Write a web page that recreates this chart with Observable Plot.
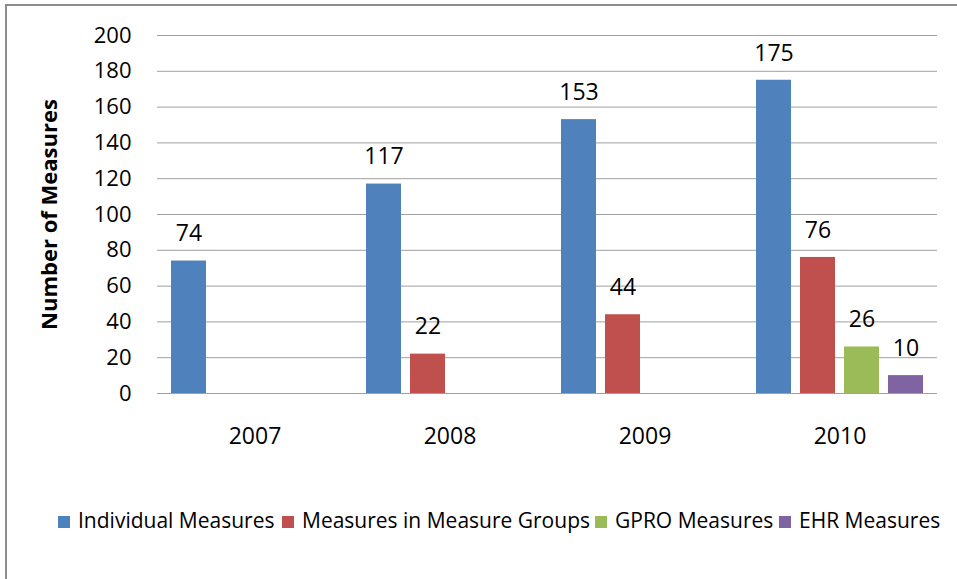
<!DOCTYPE html>
<html>
<head>
<meta charset="utf-8">
<script src="https://cdn.jsdelivr.net/npm/d3@7"></script>
<script src="https://cdn.jsdelivr.net/npm/@observablehq/plot@0.6"></script>
<style>
  html, body { margin: 0; padding: 0; background: #fff; }
  #wrap { position: relative; width: 957px; height: 579px; overflow: hidden; font-family: "Open Sans", Lato, sans-serif; }
  #border { position: absolute; left: 5px; top: 4px; right: -5px; bottom: -5px; border-left: 2px solid #8c8c8c; border-top: 2px solid #8c8c8c; }
  #chart { position: absolute; left: 0; top: 0; }
  #chart svg text { font-family: "Open Sans", Lato, sans-serif; fill: #000; }
  g[aria-label="y-axis label"] text { font-weight: bold; font-size: 22px; }
  .leg { position: absolute; top: 507px; font-size: 21px; white-space: nowrap; color: #000; line-height: 26px; }
  .leg span.sw { display: inline-block; width: 12px; height: 12px; margin-right: 8px; vertical-align: 0px; }
</style>
</head>
<body>
<div id="wrap">
  <div id="border"></div>
  <div id="chart"></div>
  <div id="legend"></div>
</div>
<script>
const years = ["2007", "2008", "2009", "2010"];
const seriesNames = ["Individual Measures", "Measures in Measure Groups", "GPRO Measures", "EHR Measures"];
const individual = [74, 117, 153, 175];
const measureGroups = [null, 22, 44, 76];
const gpro = [null, null, null, 26];
const ehr = [null, null, null, 10];
const colors = ["#4f81bd", "#c0504d", "#9bbb59", "#8064a2"];
const yTicks = [0, 20, 40, 60, 80, 100, 120, 140, 160, 180, 200];
const legendX = [58, 282, 595, 779];

const seriesValues = [individual, measureGroups, gpro, ehr];
const data = [];
years.forEach((yr, i) => {
  seriesValues.forEach((vals, s) => {
    if (vals[i] != null) data.push({year: yr, series: seriesNames[s], value: vals[i]});
  });
});

const chart = Plot.plot({
  width: 957,
  height: 460,
  marginTop: 35,
  marginBottom: 67,
  marginLeft: 157,
  marginRight: 20,
  style: {fontSize: "20px", fontFamily: "'Open Sans', Lato, sans-serif", background: "transparent"},
  fx: {domain: years, padding: 0, label: null},
  x: {domain: seriesNames, paddingInner: 0.21, paddingOuter: 0.3, axis: null},
  y: {domain: [0, 200], ticks: yTicks},
  color: {domain: seriesNames, range: colors},
  marks: [
    Plot.gridY(yTicks, {stroke: "#a0a0a0", strokeOpacity: 1, strokeWidth: 1}),
    Plot.axisY({ticks: yTicks, tickSize: 0, tickPadding: 26, label: "Number of Measures", labelAnchor: "center", labelArrow: "none", labelOffset: 116, fontSize: 22}),
    Plot.axisFx({anchor: "bottom", tickSize: 0, tickPadding: 34, label: null, fontSize: 23}),
    Plot.barY(data, {fx: "year", x: "series", y: "value", fill: "series"}),
    Plot.text(data, {fx: "year", x: "series", y: "value", text: d => String(d.value), dy: -27, fontSize: 23, fill: "#000"})
  ]
});
document.getElementById("chart").appendChild(chart);

const legend = document.getElementById("legend");
seriesNames.forEach((name, i) => {
  const item = document.createElement("div");
  item.className = "leg";
  item.style.left = legendX[i] + "px";
  const sw = document.createElement("span");
  sw.className = "sw";
  sw.style.background = colors[i];
  item.appendChild(sw);
  item.appendChild(document.createTextNode(name));
  legend.appendChild(item);
});
</script>
</body>
</html>
